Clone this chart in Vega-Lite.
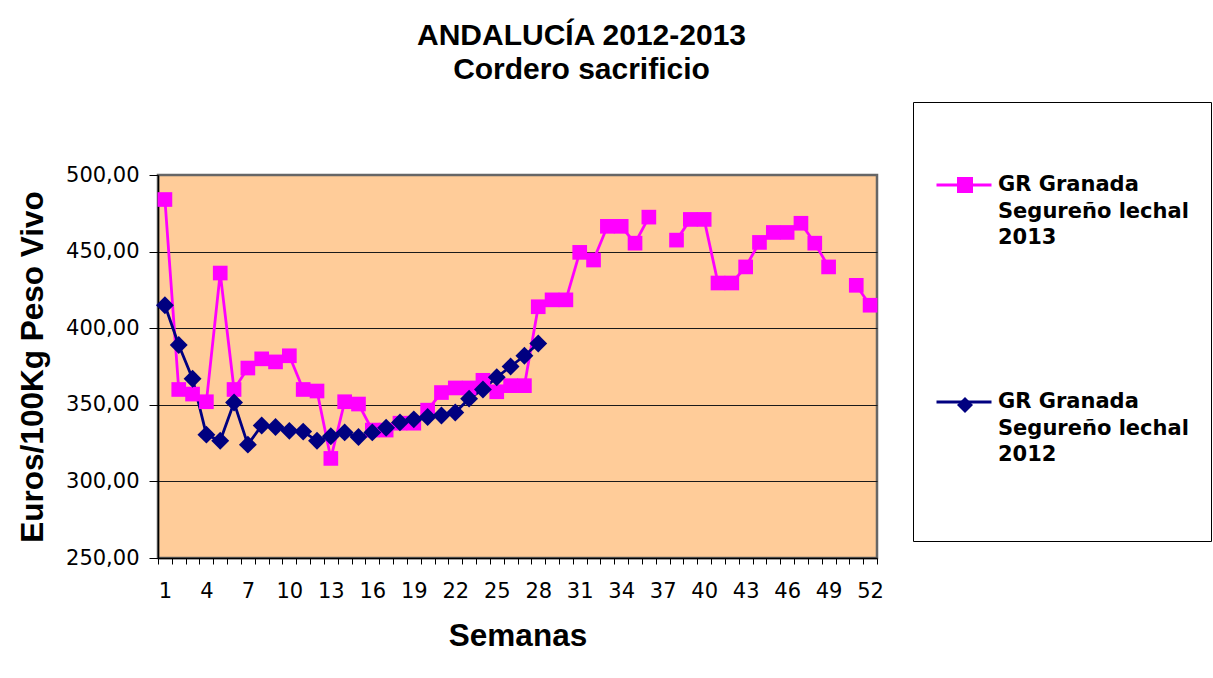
{
  "$schema": "https://vega.github.io/schema/vega-lite/v6.json",
  "width": 719,
  "height": 383,
  "autosize": {"type": "none"},
  "padding": {"left": 158, "top": 175, "right": 336, "bottom": 120},
  "background": "white",
  "title": {
    "text": ["ANDALUCÍA 2012-2013", "Cordero sacrificio"],
    "font": "Liberation Sans",
    "fontSize": 30,
    "fontWeight": "bold",
    "color": "black",
    "lineHeight": 34,
    "anchor": "middle",
    "frame": "group",
    "dx": 64,
    "offset": 17
  },
  "config": {
    "view": {"fill": "#FFCC99", "stroke": "#666666", "strokeWidth": 2.5},
    "style": {"guide-label": {"lineHeight": 26.7}}
  },
  "data": {
    "values": [
      {"semana": 1, "serie": "2013", "precio": 484},
      {"semana": 2, "serie": "2013", "precio": 360},
      {"semana": 3, "serie": "2013", "precio": 357},
      {"semana": 4, "serie": "2013", "precio": 352},
      {"semana": 5, "serie": "2013", "precio": 436},
      {"semana": 6, "serie": "2013", "precio": 360},
      {"semana": 7, "serie": "2013", "precio": 374},
      {"semana": 8, "serie": "2013", "precio": 380},
      {"semana": 9, "serie": "2013", "precio": 378},
      {"semana": 10, "serie": "2013", "precio": 382},
      {"semana": 11, "serie": "2013", "precio": 360},
      {"semana": 12, "serie": "2013", "precio": 359},
      {"semana": 13, "serie": "2013", "precio": 315},
      {"semana": 14, "serie": "2013", "precio": 352},
      {"semana": 15, "serie": "2013", "precio": 350.5},
      {"semana": 16, "serie": "2013", "precio": 333.5},
      {"semana": 17, "serie": "2013", "precio": 333.5},
      {"semana": 18, "serie": "2013", "precio": 338},
      {"semana": 19, "serie": "2013", "precio": 338},
      {"semana": 20, "serie": "2013", "precio": 346.5},
      {"semana": 21, "serie": "2013", "precio": 358},
      {"semana": 22, "serie": "2013", "precio": 361},
      {"semana": 23, "serie": "2013", "precio": 361},
      {"semana": 24, "serie": "2013", "precio": 366},
      {"semana": 25, "serie": "2013", "precio": 358.5},
      {"semana": 26, "serie": "2013", "precio": 362.5},
      {"semana": 27, "serie": "2013", "precio": 362.5},
      {"semana": 28, "serie": "2013", "precio": 414},
      {"semana": 29, "serie": "2013", "precio": 418.5},
      {"semana": 30, "serie": "2013", "precio": 418.5},
      {"semana": 31, "serie": "2013", "precio": 449.5},
      {"semana": 32, "serie": "2013", "precio": 444.5},
      {"semana": 33, "serie": "2013", "precio": 466.5},
      {"semana": 34, "serie": "2013", "precio": 466.5},
      {"semana": 35, "serie": "2013", "precio": 455.5},
      {"semana": 36, "serie": "2013", "precio": 472.5},
      {"semana": 37, "serie": "2013", "precio": null},
      {"semana": 38, "serie": "2013", "precio": 457.5},
      {"semana": 39, "serie": "2013", "precio": 471},
      {"semana": 40, "serie": "2013", "precio": 471},
      {"semana": 41, "serie": "2013", "precio": 429.5},
      {"semana": 42, "serie": "2013", "precio": 429.5},
      {"semana": 43, "serie": "2013", "precio": 440},
      {"semana": 44, "serie": "2013", "precio": 456},
      {"semana": 45, "serie": "2013", "precio": 462.5},
      {"semana": 46, "serie": "2013", "precio": 462.5},
      {"semana": 47, "serie": "2013", "precio": 468.5},
      {"semana": 48, "serie": "2013", "precio": 455.5},
      {"semana": 49, "serie": "2013", "precio": 440},
      {"semana": 50, "serie": "2013", "precio": null},
      {"semana": 51, "serie": "2013", "precio": 428},
      {"semana": 52, "serie": "2013", "precio": 415},
      {"semana": 1, "serie": "2012", "precio": 415},
      {"semana": 2, "serie": "2012", "precio": 389},
      {"semana": 3, "serie": "2012", "precio": 367},
      {"semana": 4, "serie": "2012", "precio": 330.5},
      {"semana": 5, "serie": "2012", "precio": 326.5},
      {"semana": 6, "serie": "2012", "precio": 351.5},
      {"semana": 7, "serie": "2012", "precio": 324},
      {"semana": 8, "serie": "2012", "precio": 336.5},
      {"semana": 9, "serie": "2012", "precio": 335.5},
      {"semana": 10, "serie": "2012", "precio": 333},
      {"semana": 11, "serie": "2012", "precio": 332.5},
      {"semana": 12, "serie": "2012", "precio": 326.5},
      {"semana": 13, "serie": "2012", "precio": 329.5},
      {"semana": 14, "serie": "2012", "precio": 332},
      {"semana": 15, "serie": "2012", "precio": 329},
      {"semana": 16, "serie": "2012", "precio": 332},
      {"semana": 17, "serie": "2012", "precio": 335},
      {"semana": 18, "serie": "2012", "precio": 338.5},
      {"semana": 19, "serie": "2012", "precio": 340.5},
      {"semana": 20, "serie": "2012", "precio": 342},
      {"semana": 21, "serie": "2012", "precio": 343},
      {"semana": 22, "serie": "2012", "precio": 345},
      {"semana": 23, "serie": "2012", "precio": 354},
      {"semana": 24, "serie": "2012", "precio": 360},
      {"semana": 25, "serie": "2012", "precio": 368},
      {"semana": 26, "serie": "2012", "precio": 375},
      {"semana": 27, "serie": "2012", "precio": 382},
      {"semana": 28, "serie": "2012", "precio": 390}
    ]
  },
  "encoding": {
    "x": {
      "field": "semana",
      "type": "ordinal",
      "bandPosition": 0.5,
      "scale": {
        "type": "band",
        "paddingInner": 0,
        "paddingOuter": 0,
        "domain": [1,2,3,4,5,6,7,8,9,10,11,12,13,14,15,16,17,18,19,20,21,22,23,24,25,26,27,28,29,30,31,32,33,34,35,36,37,38,39,40,41,42,43,44,45,46,47,48,49,50,51,52]
      },
      "axis": {
        "title": "Semanas",
        "titleFont": "Liberation Sans",
        "titleFontSize": 31.5,
        "titleFontWeight": "bold",
        "titleColor": "black",
        "titlePadding": 19,
        "labelFont": "DejaVu Sans",
        "labelFontSize": 21,
        "labelColor": "black",
        "labelAngle": 0,
        "labelPadding": 16,
        "tickSize": 6,
        "tickBand": "extent",
        "tickColor": "black",
        "tickWidth": 1,
        "domainColor": "black",
        "domainWidth": 1.5,
        "grid": false,
        "labelExpr": "(datum.value - 1) % 3 == 0 ? datum.label : ''"
      }
    },
    "y": {
      "field": "precio",
      "type": "quantitative",
      "scale": {"domain": [250, 500], "nice": false, "zero": false},
      "axis": {
        "title": "Euros/100Kg Peso Vivo",
        "titleFont": "Liberation Sans",
        "titleFontSize": 31.5,
        "titleFontWeight": "bold",
        "titleColor": "black",
        "titlePadding": 16,
        "labelFont": "DejaVu Sans",
        "labelFontSize": 21,
        "labelColor": "black",
        "labelPadding": 10,
        "tickSize": 9,
        "tickColor": "black",
        "tickWidth": 1,
        "domainColor": "black",
        "domainWidth": 1.5,
        "grid": true,
        "gridColor": "#1a1a1a",
        "gridWidth": 1,
        "gridOpacity": {"condition": {"test": "datum.value >= 500 || datum.value <= 250", "value": 0}, "value": 1},
        "values": [250, 300, 350, 400, 450, 500],
        "labelExpr": "replace(format(datum.value, '.2f'), '.', ',')"
      }
    }
  },
  "layer": [
    {
      "mark": {"type": "line", "strokeWidth": 2.8, "invalid": "break-paths-show-domains"},
      "encoding": {
        "stroke": {
          "field": "serie",
          "type": "nominal",
          "sort": "descending",
          "scale": {"range": ["#FF00FF", "#000080"]},
          "legend": {
            "orient": "none",
            "legendX": 755,
            "legendY": -73,
            "padding": 22,
            "strokeColor": "black",
            "title": " ",
            "titleFontSize": 20,
            "titlePadding": 12,
            "symbolType": "stroke",
            "symbolSize": 3025,
            "symbolStrokeWidth": 2.8,
            "labelFont": "DejaVu Sans",
            "labelFontWeight": "bold",
            "labelFontSize": 21,
            "labelColor": "black",
            "labelBaseline": "middle",
            "labelOffset": 5,
            "labelLimit": 400,
            "rowPadding": 124,
            "labelExpr": "datum.label == '2012' ? ['GR Granada', 'Segureño lechal', '2012', '', ''] : ['GR Granada', 'Segureño lechal', datum.label]"
          }
        }
      }
    },
    {
      "mark": {"type": "point", "filled": true, "opacity": 1, "strokeWidth": 0},
      "encoding": {
        "size": {
          "field": "serie",
          "type": "nominal",
          "scale": {"domain": ["2012", "2013"], "range": [320, 215]},
          "legend": null
        },
        "fill": {
          "field": "serie",
          "type": "nominal",
          "scale": {"domain": ["2013", "2012"], "range": ["#FF00FF", "#000080"]},
          "legend": {
            "orient": "none",
            "legendX": 797,
            "legendY": 0,
            "padding": 0,
            "title": null,
            "symbolSize": 256,
            "labelFontSize": 20,
            "labelBaseline": "middle",
            "labelOffset": 5,
            "rowPadding": 198,
            "labelExpr": "''"
          }
        },
        "shape": {
          "field": "serie",
          "type": "nominal",
          "scale": {"domain": ["2013", "2012"], "range": ["square", "diamond"]},
          "legend": {
            "orient": "none",
            "legendX": 797,
            "legendY": 0,
            "padding": 0,
            "title": null,
            "symbolSize": 256,
            "labelFontSize": 20,
            "labelBaseline": "middle",
            "labelOffset": 5,
            "rowPadding": 198,
            "labelExpr": "''"
          }
        }
      }
    }
  ]
}
